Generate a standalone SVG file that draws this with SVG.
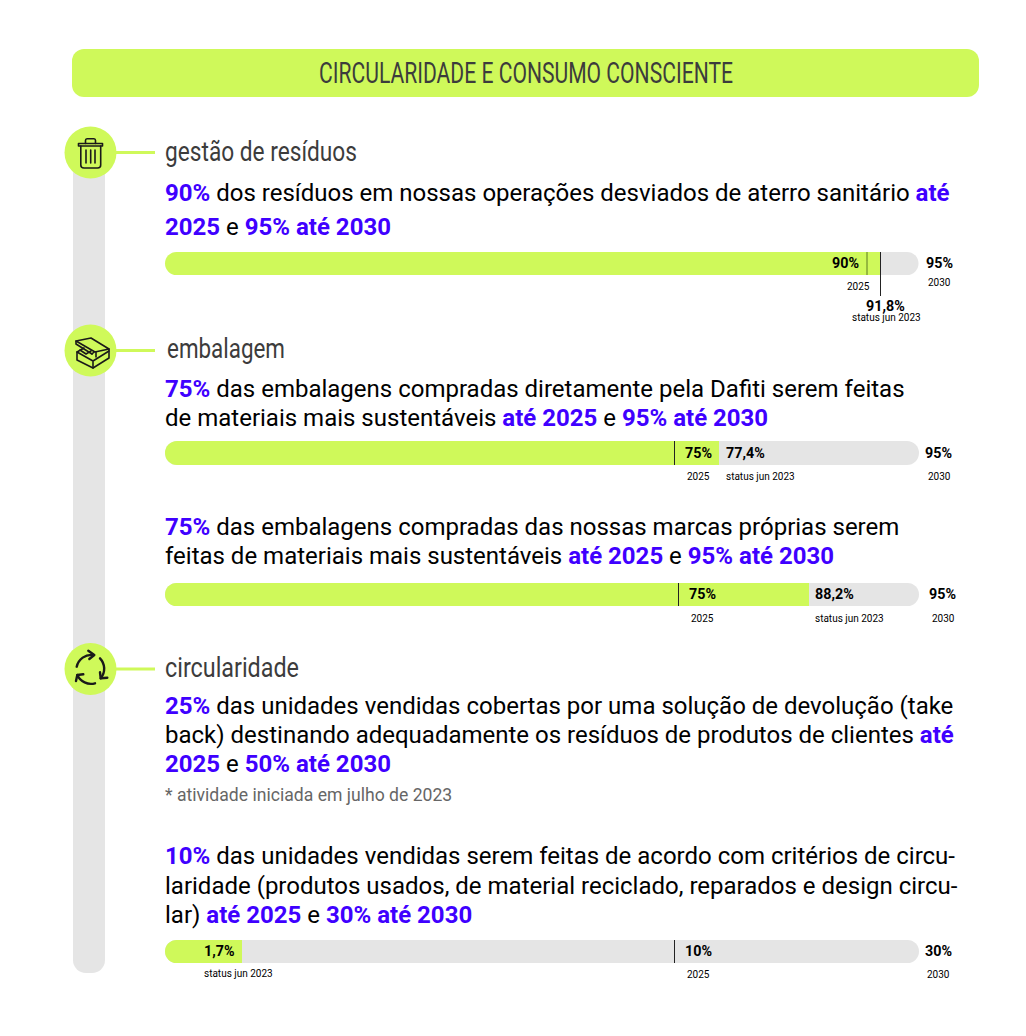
<svg xmlns="http://www.w3.org/2000/svg" width="1026" height="1036" viewBox="0 0 1026 1036">
<style>
text{font-family:Roboto,"Liberation Sans",sans-serif;fill:#000}
.b{font-size:24px}
.p{fill:#3f00ff;font-weight:700}
.h{font-size:27px;fill:#3c3c3c}
.v{font-size:14.300px;font-weight:700}
.s{font-size:10px}
.g{fill:#e5e5e5}
.y{fill:#cff95a}
.m{stroke:#222;stroke-width:1}
.c{stroke:#cff95a;stroke-width:3;fill:none}
.i{fill:none;stroke:#1a1a1a;stroke-width:1.600;stroke-linejoin:round;stroke-linecap:round}
.r{stroke-width:2.400}
</style>
<rect width="1026" height="1036" fill="#fff"/>
<rect id="timeline" class="g" x="73" y="160" width="32" height="813" rx="13"/>
<g id="title"><rect class="y" x="72" y="49" width="907" height="48" rx="12"/>
<text x="319" y="83" font-size="29" style="fill:#3c3c3c" textLength="414" lengthAdjust="spacingAndGlyphs">CIRCULARIDADE E CONSUMO CONSCIENTE</text></g>
<g id="connectors"><path class="c" d="M116 152.500H155M116 350.500H155M116 669H155"/></g>
<g id="node-residuos">
<circle class="y" cx="90.500" cy="152.500" r="26"/>
<g class="i"><path d="M78.500 143.500H102.500V146H78.500Z"/><path d="M85.500 143.500V140.500Q85.500 138.800 87 138.800H94Q95.500 138.800 95.500 140.500V143.500"/><path d="M80.800 146V165Q80.800 168 84 168H97.500Q100.700 168 100.700 165V146"/><path d="M86 150V163M90.700 150V163M95 150V163"/></g>
<text class="h" x="165" y="161" textLength="192" lengthAdjust="spacingAndGlyphs">gestão de resíduos</text>
<text class="b" x="165" y="200.500"><tspan class="p">90%</tspan> dos resíduos em nossas operações desviados de aterro sanitário <tspan class="p">até</tspan></text>
<text class="b" x="165" y="235"><tspan class="p">2025</tspan> e <tspan class="p">95% até 2030</tspan></text>
<path class="g" d="M177 252H907a11.500 11.500 0 0 1 0 23H177Z"/>
<path class="y" d="M176.500 252H880V275H176.500a11.500 11.500 0 0 1 0-23Z"/>
<path d="M867 252V275" stroke="#5d7a22" stroke-width="1"/><path class="m" d="M880.500 252V296"/>
<text class="v" x="832" y="268">90%</text><text class="v" x="926" y="268">95%</text>
<text class="s" x="847" y="290">2025</text><text class="s" x="928" y="286">2030</text>
<text class="v" x="866" y="311">91,8%</text><text class="s" x="852" y="321">status jun 2023</text>
</g>
<g id="node-embalagem">
<circle class="y" cx="90.500" cy="350.500" r="26"/>
<g class="i"><path d="M76 341L91 338L109 349L95 352Z"/><path d="M76 341V344L92 354"/><path d="M92 354L94 352M96 352V357"/><path d="M77 352L84 348M77 352V360L93 368L109 358V349"/><path d="M77 352L93 361V368M93 361L109 351"/><path d="M80 350L86 354L91 351"/></g>
<text class="h" x="167" y="358" textLength="118" lengthAdjust="spacingAndGlyphs">embalagem</text>
<text class="b" x="165" y="397"><tspan class="p">75%</tspan> das embalagens compradas diretamente pela Dafiti serem feitas</text>
<text class="b" x="165" y="426">de materiais mais sustentáveis <tspan class="p">até 2025</tspan> e <tspan class="p">95% até 2030</tspan></text>
<rect class="g" x="165" y="441" width="754" height="24" rx="12"/>
<path class="y" d="M177 441H719V465H177a12 12 0 0 1 0-24Z"/>
<path class="m" d="M674.500 441V465"/>
<text class="v" x="685" y="457.500">75%</text><text class="v" x="726" y="457.500">77,4%</text><text class="v" x="925" y="457.500">95%</text>
<text class="s" x="687" y="480">2025</text><text class="s" x="726" y="480">status jun 2023</text><text class="s" x="928" y="480">2030</text>
<text class="b" x="165" y="535"><tspan class="p">75%</tspan> das embalagens compradas das nossas marcas próprias serem</text>
<text class="b" x="165" y="564">feitas de materiais mais sustentáveis <tspan class="p">até 2025</tspan> e <tspan class="p">95% até 2030</tspan></text>
<rect class="g" x="165" y="583" width="754" height="23" rx="11.500"/>
<path class="y" d="M176.500 583H809V606H176.500a11.500 11.500 0 0 1 0-23Z"/>
<path class="m" d="M678.500 583V606"/>
<text class="v" x="689" y="598.500">75%</text><text class="v" x="815" y="598.500">88,2%</text><text class="v" x="929" y="598.500">95%</text>
<text class="s" x="691" y="622">2025</text><text class="s" x="815" y="622">status jun 2023</text><text class="s" x="932" y="622">2030</text>
</g>
<g id="node-circularidade">
<circle class="y" cx="90.500" cy="669" r="26"/>
<g class="i r"><path d="M76.700 666.700A15 15 0 0 1 93.300 655"/><path d="M88.300 650.700L94.300 655L89.300 659"/><path d="M100 658.300A15 15 0 0 1 100.700 678.300"/><path d="M100 672.300L100.700 678.300L107.300 677.700"/><path d="M95 683.300A15 15 0 0 1 77.300 675"/><path d="M83.300 674.300L77.300 675L76 681"/></g>
<text class="h" x="165" y="677" textLength="134" lengthAdjust="spacingAndGlyphs">circularidade</text>
<text class="b" x="165" y="714"><tspan class="p">25%</tspan> das unidades vendidas cobertas por uma solução de devolução (take</text>
<text class="b" x="165" y="743">back) destinando adequadamente os resíduos de produtos de clientes <tspan class="p">até</tspan></text>
<text class="b" x="165" y="772"><tspan class="p">2025</tspan> e <tspan class="p">50% até 2030</tspan></text>
<text x="165" y="801" font-size="17.600" style="fill:#666">* atividade iniciada em julho de 2023</text>
<text class="b" x="165" y="864"><tspan class="p">10%</tspan> das unidades vendidas serem feitas de acordo com critérios de circu-</text>
<text class="b" x="165" y="893.500">laridade (produtos usados, de material reciclado, reparados e design circu-</text>
<text class="b" x="165" y="923">lar) <tspan class="p">até 2025</tspan> e <tspan class="p">30% até 2030</tspan></text>
<rect class="g" x="165" y="940" width="754" height="23" rx="11.500"/>
<path class="y" d="M176.500 940H242V963H176.500a11.500 11.500 0 0 1 0-23Z"/>
<path class="m" d="M674.500 940V963"/>
<text class="v" x="204" y="955.500">1,7%</text><text class="v" x="685" y="956">10%</text><text class="v" x="925" y="956">30%</text>
<text class="s" x="204" y="977">status jun 2023</text><text class="s" x="687" y="978">2025</text><text class="s" x="927" y="978">2030</text>
</g>
</svg>
